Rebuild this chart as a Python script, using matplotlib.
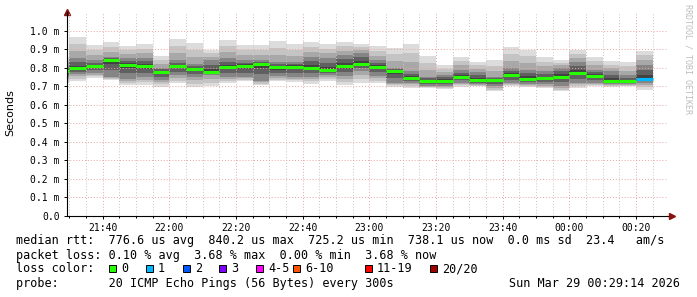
import matplotlib
matplotlib.use("Agg")
import matplotlib.pyplot as plt
import matplotlib.dates as mdates
import matplotlib.patches as patches
from matplotlib.ticker import FixedLocator
import numpy as np
import pandas as pd

# 5 minute bins, 21:25 .. 00:25
bin_edges = pd.date_range("2026-03-28 21:25", "2026-03-29 00:25", freq="5min")
t_start = pd.Timestamp("2026-03-28 21:29:14")
t_end = pd.Timestamp("2026-03-29 00:29:14")

# values in ms
median = [0.782, 0.798, 0.809, 0.840, 0.815, 0.809, 0.776, 0.808, 0.791, 0.778,
          0.806, 0.810, 0.822, 0.802, 0.806, 0.797, 0.790, 0.809, 0.820, 0.805,
          0.780, 0.746, 0.730, 0.730, 0.750, 0.734, 0.734, 0.760, 0.741, 0.743,
          0.752, 0.773, 0.757, 0.730, 0.726, 0.741]
ping_max = [0.860, 0.966, 0.921, 0.940, 0.916, 0.930, 0.862, 0.955, 0.934, 0.897,
            0.948, 0.921, 0.921, 0.942, 0.928, 0.939, 0.930, 0.937, 0.928, 0.916,
            0.909, 0.928, 0.862, 0.813, 0.856, 0.831, 0.840, 0.910, 0.897, 0.858,
            0.840, 0.897, 0.858, 0.834, 0.831, 0.892]
ping_min = [0.720, 0.729, 0.744, 0.733, 0.706, 0.706, 0.697, 0.716, 0.694, 0.700,
            0.717, 0.726, 0.705, 0.726, 0.723, 0.714, 0.726, 0.705, 0.717, 0.716,
            0.697, 0.689, 0.690, 0.687, 0.698, 0.700, 0.672, 0.700, 0.694, 0.690,
            0.672, 0.690, 0.700, 0.694, 0.700, 0.681]
upper_q = [0.810, 0.850, 0.840, 0.860, 0.850, 0.850, 0.800, 0.840, 0.820, 0.840,
           0.850, 0.840, 0.840, 0.830, 0.830, 0.860, 0.850, 0.870, 0.880, 0.840,
           0.800, 0.780, 0.750, 0.760, 0.790, 0.775, 0.750, 0.800, 0.790, 0.780,
           0.800, 0.830, 0.790, 0.780, 0.760, 0.815]
lower_q = [0.750, 0.765, 0.770, 0.750, 0.740, 0.750, 0.735, 0.760, 0.750, 0.760,
           0.750, 0.750, 0.730, 0.755, 0.750, 0.750, 0.760, 0.755, 0.780, 0.755,
           0.720, 0.720, 0.700, 0.700, 0.720, 0.710, 0.700, 0.720, 0.710, 0.710,
           0.700, 0.720, 0.720, 0.710, 0.710, 0.720]
lost_pings = [0, 0, 0, 0, 0, 0, 0, 0, 0, 0, 0, 0, 0, 0, 0, 0, 0, 0, 0, 0,
              0, 0, 0, 0, 0, 0, 0, 0, 0, 0, 0, 0, 0, 0, 0, 1]

loss_labels = ["0", "1", "2", "3", "4-5", "6-10", "11-19", "20/20"]
loss_colors = ["#26ff00", "#00b8ff", "#0059ff", "#7e00ff", "#ff00ff",
               "#ff5500", "#ff0000", "#a00000"]

y_ticks = [0.0, 0.1, 0.2, 0.3, 0.4, 0.5, 0.6, 0.7, 0.8, 0.9, 1.0]
y_labels = ["0.0", "0.1 m", "0.2 m", "0.3 m", "0.4 m", "0.5 m", "0.6 m",
            "0.7 m", "0.8 m", "0.9 m", "1.0 m"]

legend_lines = [
    "median rtt:  776.6 us avg  840.2 us max  725.2 us min  738.1 us now  0.0 ms sd  23.4   am/s",
    "packet loss: 0.10 % avg  3.68 % max  0.00 % min  3.68 % now",
    "loss color:",
    "probe:       20 ICMP Echo Pings (56 Bytes) every 300s",
]
stamp = "Sun Mar 29 00:29:14 2026"

W, H = 697, 297
mono = "DejaVu Sans Mono"

fig = plt.figure(figsize=(W / 100, H / 100), dpi=100)
ax = fig.add_axes([66.7 / W, 1 - 215.7 / H, 600 / W, (215.7 - 12.2) / H])

def ext(a):
    a = np.asarray(a, dtype=float)
    return np.append(a, a[-1])

mn, mx = ext(ping_min), ext(ping_max)
q1, q3 = ext(lower_q), ext(upper_q)
md = ext(median)

# smoke: outer bands light, getting darker toward the median
outer = [(0.0, "#dcdcdc"), (0.33, "#c4c4c4"), (0.66, "#a8a8a8")]
for f, c in outer:
    ax.fill_between(bin_edges, mn + (q1 - mn) * f, mx - (mx - q3) * f,
                    step="post", color=c, lw=0, zorder=1)
ax.fill_between(bin_edges, q1, q3, step="post", color="#858585", lw=0, zorder=1)
inner = [(0.4, "#606060"), (0.75, "#424242")]
for f, c in inner:
    ax.fill_between(bin_edges, q1 + (md - q1) * f, q3 - (q3 - md) * f,
                    step="post", color=c, lw=0, zorder=1)

def loss_color(n):
    if n <= 3:
        return loss_colors[n]
    if n <= 5:
        return loss_colors[4]
    if n <= 10:
        return loss_colors[5]
    if n <= 19:
        return loss_colors[6]
    return loss_colors[7]

ax.hlines(median, bin_edges[:-1], bin_edges[1:],
          colors=[loss_color(n) for n in lost_pings], lw=2.2, zorder=3)

ax.set_xlim(t_start, t_end)
ax.set_ylim(0, 1.1)

ax.xaxis.set_major_locator(mdates.MinuteLocator(byminute=[0, 20, 40]))
ax.xaxis.set_minor_locator(mdates.MinuteLocator(byminute=range(0, 60, 5)))
ax.xaxis.set_major_formatter(mdates.DateFormatter("%H:%M"))
ax.yaxis.set_major_locator(FixedLocator(y_ticks))
ax.set_yticklabels(y_labels)

ax.grid(which="major", axis="both", color="#e9a3a3", lw=0.7,
        linestyle=(0, (1, 2)), zorder=4)
ax.grid(which="minor", axis="x", color="#c4c4c4", lw=0.7,
        linestyle=(0, (1, 2)), zorder=4)
ax.set_axisbelow(False)

ax.tick_params(which="both", labelsize=7, length=2, width=0.7, pad=3)
ax.tick_params(which="minor", length=1.5)
for lab in ax.get_xticklabels() + ax.get_yticklabels():
    lab.set_family(mono)

for s in ["top", "right"]:
    ax.spines[s].set_visible(False)
for s in ["left", "bottom"]:
    ax.spines[s].set_color("#000000")
    ax.spines[s].set_linewidth(0.8)
    ax.spines[s].set_zorder(5)

# rrdtool style arrows
ax.plot([1.0, 1.006], [0, 0], color="#000000", lw=0.8,
        transform=ax.transAxes, clip_on=False)
ax.plot([1.009], [0], marker=">", color="#8b1010", ms=4,
        transform=ax.transAxes, clip_on=False)
ax.plot([0], [1.0], marker="^", color="#8b1010", ms=4,
        transform=ax.transAxes, clip_on=False)

fig.text(10 / W, 1 - 113 / H, "Seconds", rotation=90, ha="center",
         va="center", fontsize=8)
fig.text(688 / W, 1 - 4 / H, "RRDTOOL / TOBI OETIKER", rotation=-90,
         ha="center", va="top", fontsize=6, family=mono, color="#bdbdbd")

line_y = [240.7, 255.0, 268.7, 283.3]
for txt, yy in zip(legend_lines, line_y):
    fig.text(16 / W, 1 - yy / H, txt, ha="left", va="center",
             fontsize=8.5, family=mono)
fig.text(680 / W, 1 - line_y[3] / H, stamp, ha="right", va="center",
         fontsize=8.5, family=mono)

box_x = [109, 146, 183, 219, 256, 293, 365, 430]
for bx, lab, c in zip(box_x, loss_labels, loss_colors):
    fig.add_artist(patches.Rectangle((bx / W, 1 - 272.3 / H), 7 / W, 7 / H,
                                     transform=fig.transFigure, facecolor=c,
                                     edgecolor="#000000", lw=0.7))
    fig.text((bx + 12) / W, 1 - line_y[2] / H, lab, ha="left", va="center",
             fontsize=8.5, family=mono)

fig.savefig("out.png", dpi=100)
